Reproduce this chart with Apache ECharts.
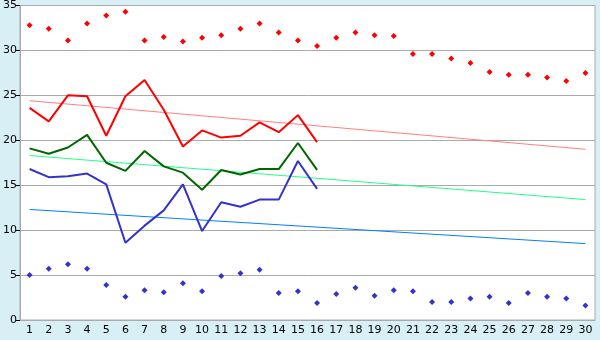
<!DOCTYPE html>
<html>
<head>
<meta charset="utf-8">
<script src="https://cdn.jsdelivr.net/npm/echarts@6/dist/echarts.min.js"></script>
<style>
html,body{margin:0;padding:0;background:#d9eff6;}
#c{width:600px;height:340px;}
</style>
</head>
<body>
<div id="c"></div>
<script>
var days = ['1','2','3','4','5','6','7','8','9','10','11','12','13','14','15','16','17','18','19','20','21','22','23','24','25','26','27','28','29','30'];
var yTicks = [0,5,10,15,20,25,30,35];
var maxPoints = [32.8,32.4,31.1,33.0,33.9,34.3,31.1,31.5,31.0,31.4,31.7,32.4,33.0,32.0,31.1,30.5,31.4,32.0,31.7,31.6,29.6,29.6,29.1,28.6,27.6,27.3,27.3,27.0,26.6,27.5];
var minPoints = [5.0,5.7,6.2,5.7,3.9,2.6,3.3,3.1,4.1,3.2,4.9,5.2,5.6,3.0,3.2,1.9,2.9,3.6,2.7,3.3,3.2,2.0,2.0,2.4,2.6,1.9,3.0,2.6,2.4,1.6];
var highLine = [23.6,22.1,25.0,24.9,20.5,24.9,26.7,23.4,19.3,21.1,20.3,20.5,22.0,20.9,22.8,19.8];
var meanLine = [19.1,18.5,19.2,20.6,17.5,16.6,18.8,17.1,16.4,14.5,16.7,16.2,16.8,16.8,19.7,16.7];
var lowLine = [16.8,15.9,16.0,16.3,15.1,8.6,10.5,12.2,15.1,9.9,13.1,12.6,13.4,13.4,17.7,14.6];
var highTrend = [24.4,19.0];
var meanTrend = [18.3,13.4];
var lowTrend = [12.3,8.5];

function trend(ends){ return [[0, ends[0]], [days.length-1, ends[1]]]; }

var chart = echarts.init(document.getElementById('c'), null, {renderer:'canvas'});
var font = 'DejaVu Sans';
chart.setOption({
  backgroundColor:'#d9eff6',
  animation:false,
  grid:{left:20,right:5,top:5,bottom:20,show:true,backgroundColor:'#ffffff',borderColor:'#aaaaaa',borderWidth:1},
  xAxis:{type:'category',data:days,boundaryGap:true,
    axisLine:{lineStyle:{color:'#aaaaaa'}},
    axisTick:{alignWithLabel:true,length:4,lineStyle:{color:'#000'}},
    axisLabel:{color:'#000',fontFamily:font,fontSize:11,margin:5,interval:0},
    splitLine:{show:false}},
  yAxis:{type:'value',min:yTicks[0],max:yTicks[yTicks.length-1],interval:5,
    axisLine:{show:true,lineStyle:{color:'#aaaaaa'}},
    axisTick:{show:true,length:4,lineStyle:{color:'#000'}},
    axisLabel:{color:'#000',fontFamily:font,fontSize:11,margin:3},
    splitLine:{lineStyle:{color:'#aaaaaa'}}},
  series:[
    {type:'line',data:trend(highTrend),symbol:'none',lineStyle:{color:'#ff8080',width:1}},
    {type:'line',data:trend(meanTrend),symbol:'none',lineStyle:{color:'#22ff88',width:1}},
    {type:'line',data:trend(lowTrend),symbol:'none',lineStyle:{color:'#0080ff',width:1}},
    {type:'line',data:highLine,symbol:'none',lineStyle:{color:'#ff0000',width:2}},
    {type:'line',data:meanLine,symbol:'none',lineStyle:{color:'#006600',width:2}},
    {type:'line',data:lowLine,symbol:'none',lineStyle:{color:'#3333cc',width:2}},
    {type:'scatter',data:maxPoints,symbol:'diamond',symbolSize:6,itemStyle:{color:'#ff0000',opacity:1}},
    {type:'scatter',data:minPoints,symbol:'diamond',symbolSize:6,itemStyle:{color:'#3333cc',opacity:1}}
  ]
});
</script>
</body>
</html>
